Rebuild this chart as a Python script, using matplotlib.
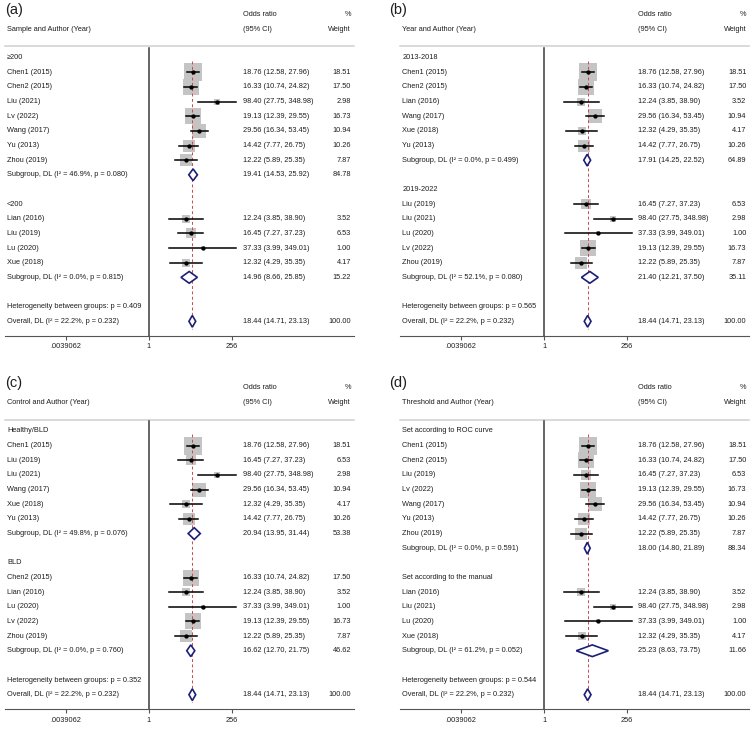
"""
Forest plots of subgroup analyses (a)-(d)
"""
import matplotlib
matplotlib.use('Agg')
import matplotlib.pyplot as plt
import matplotlib.transforms as mtransforms
from matplotlib.patches import Polygon
from matplotlib.ticker import FixedLocator, FixedFormatter, NullLocator
import numpy as np

plt.rcParams['font.family'] = ['Liberation Sans', 'DejaVu Sans']

# Studies
authors = ['Chen1 (2015)', 'Chen2 (2015)', 'Liu (2021)', 'Lv (2022)', 'Wang (2017)', 'Yu (2013)',
           'Zhou (2019)', 'Lian (2016)', 'Liu (2019)', 'Lu (2020)', 'Xue (2018)']
odds = [18.76, 16.33, 98.40, 19.13, 29.56, 14.42, 12.22, 12.24, 16.45, 37.33, 12.32]
ci_low = [12.58, 10.74, 27.75, 12.39, 16.34, 7.77, 5.89, 3.85, 7.27, 3.99, 4.29]
ci_high = [27.96, 24.82, 348.98, 29.55, 53.45, 26.75, 25.35, 38.90, 37.23, 349.01, 35.35]
weights = [18.51, 17.50, 2.98, 16.73, 10.94, 10.26, 7.87, 3.52, 6.53, 1.00, 4.17]

# Overall (DL)
overall_or = 18.44
overall_low = 14.71
overall_high = 23.13
overall_i2 = 22.2
overall_p = 0.232

# Panels
panel_tags = ['(a)', '(b)', '(c)', '(d)']
panel_titles = ['Sample and Author (Year)', 'Year and Author (Year)',
                'Control and Author (Year)', 'Threshold and Author (Year)']
group_names = [['≥200', '<200'],
               ['2013-2018', '2019-2022'],
               ['Healthy/BLD', 'BLD'],
               ['Set according to ROC curve', 'Set according to the manual']]
group_members = [
    [['Chen1 (2015)', 'Chen2 (2015)', 'Liu (2021)', 'Lv (2022)', 'Wang (2017)', 'Yu (2013)', 'Zhou (2019)'],
     ['Lian (2016)', 'Liu (2019)', 'Lu (2020)', 'Xue (2018)']],
    [['Chen1 (2015)', 'Chen2 (2015)', 'Lian (2016)', 'Wang (2017)', 'Xue (2018)', 'Yu (2013)'],
     ['Liu (2019)', 'Liu (2021)', 'Lu (2020)', 'Lv (2022)', 'Zhou (2019)']],
    [['Chen1 (2015)', 'Liu (2019)', 'Liu (2021)', 'Wang (2017)', 'Xue (2018)', 'Yu (2013)'],
     ['Chen2 (2015)', 'Lian (2016)', 'Lu (2020)', 'Lv (2022)', 'Zhou (2019)']],
    [['Chen1 (2015)', 'Chen2 (2015)', 'Liu (2019)', 'Lv (2022)', 'Wang (2017)', 'Yu (2013)', 'Zhou (2019)'],
     ['Lian (2016)', 'Liu (2021)', 'Lu (2020)', 'Xue (2018)']],
]
sub_or = [[19.41, 14.96], [17.91, 21.40], [20.94, 16.62], [18.00, 25.23]]
sub_low = [[14.53, 8.66], [14.25, 12.21], [13.95, 12.70], [14.80, 8.63]]
sub_high = [[25.92, 25.85], [22.52, 37.50], [31.44, 21.75], [21.89, 73.75]]
sub_weight = [[84.78, 15.22], [64.89, 35.11], [53.38, 46.62], [88.34, 11.66]]
sub_i2 = [[46.9, 0.0], [0.0, 52.1], [49.8, 0.0], [0.0, 61.2]]
sub_p = [[0.080, 0.815], [0.499, 0.080], [0.076, 0.760], [0.591, 0.052]]
het_p = [0.409, 0.565, 0.352, 0.544]

tick_values = [2.0 ** -8, 1, 2.0 ** 8]
tick_labels = ['.0039062', '1', '256']

# Layout (pixels)
W, H = 752, 729
ROW0, ROWH = 57.6, 14.65
Y_TOP, Y_BOT = -3.6, 18.98
PX_PER_LOG2 = 10.375
NULL_PX = 143.7          # null line offset inside panel axes
AX_W = 349
panel_x = [5, 400.3, 5, 400.3]
panel_dy = [0, 0, 373.4, 373.4]
tag_pos = [(5, 10), (389, 10), (5, 383), (389, 383)]

FS = 5.3
TXT = '#1e1e1e'
X_LAB, X_OR, X_W = 0.006, 0.682, 0.9914


def fmt_ci(o, lo, hi):
    return f'{o:.2f} ({lo:.2f}, {hi:.2f})'


def diamond(ax, o, lo, hi, r):
    h = 0.4
    pts = [(lo, r), (o, r - h), (hi, r), (o, r + h)]
    ax.add_patch(Polygon(pts, closed=True, facecolor='white', edgecolor='#1c1f78',
                         lw=1.2, zorder=4))


fig = plt.figure(figsize=(W / 100, H / 100), dpi=100)

for k in range(4):
    top_px = ROW0 + Y_TOP * ROWH + panel_dy[k]
    bot_px = ROW0 + Y_BOT * ROWH + panel_dy[k]
    ax = fig.add_axes([panel_x[k] / W, 1 - bot_px / H, AX_W / W, (bot_px - top_px) / H])
    ax.set_xscale('log', base=2)
    left_l2 = -NULL_PX / PX_PER_LOG2
    ax.set_xlim(2.0 ** left_l2, 2.0 ** (left_l2 + AX_W / PX_PER_LOG2))
    ax.set_ylim(Y_BOT, Y_TOP)
    tr = mtransforms.blended_transform_factory(ax.transAxes, ax.transData)

    for s in ['top', 'left', 'right']:
        ax.spines[s].set_visible(False)
    ax.spines['bottom'].set_color('#555555')
    ax.spines['bottom'].set_linewidth(0.8)
    ax.xaxis.set_major_locator(FixedLocator(tick_values))
    ax.xaxis.set_major_formatter(FixedFormatter(tick_labels))
    ax.xaxis.set_minor_locator(NullLocator())
    ax.tick_params(axis='x', direction='out', length=3, width=0.8, color='#555555',
                   labelsize=FS, labelcolor=TXT, pad=2.5)
    ax.set_yticks([])

    # headers
    ax.text(X_OR, -2.96, 'Odds ratio', transform=tr, fontsize=FS, color=TXT, va='center')
    ax.text(X_OR, -1.95, '(95% CI)', transform=tr, fontsize=FS, color=TXT, va='center')
    ax.text(X_W, -2.96, '%', transform=tr, fontsize=FS, color=TXT, va='center', ha='right')
    ax.text(X_W, -1.95, 'Weight', transform=tr, fontsize=FS, color=TXT, va='center', ha='right')
    ax.text(X_LAB, -1.95, panel_titles[k], transform=tr, fontsize=FS, color=TXT, va='center')
    ax.plot([0, 1], [-0.78, -0.78], transform=tr, color='#cfcfcf', lw=1.1, clip_on=False)

    # null line and overall line
    ax.plot([1, 1], [-0.68, Y_BOT], color='#3a3a3a', lw=1.1, zorder=2)
    ax.plot([overall_or, overall_or], [0.2, 18.5], color='#d04848', lw=0.7,
            ls=(0, (3, 2.5)), zorder=3)

    row = 0
    for g in range(2):
        ax.text(X_LAB, row, group_names[k][g], transform=tr, fontsize=FS, color=TXT, va='center')
        row += 1
        for name in group_members[k][g]:
            i = authors.index(name)
            side = 12.3 * np.sqrt(weights[i] / 18.51)
            ax.scatter(odds[i], row, marker='s', s=side ** 2, color='#c4c4c4', lw=0, zorder=1)
            ax.plot([ci_low[i], ci_high[i]], [row, row], color='black', lw=1.1, zorder=5)
            ax.plot(odds[i], row, 'o', ms=2.1, color='black', zorder=6)
            ax.text(X_LAB, row, name, transform=tr, fontsize=FS, color=TXT, va='center')
            ax.text(X_OR, row, fmt_ci(odds[i], ci_low[i], ci_high[i]), transform=tr,
                    fontsize=FS, color=TXT, va='center')
            ax.text(X_W, row, f'{weights[i]:.2f}', transform=tr, fontsize=FS, color=TXT,
                    va='center', ha='right')
            row += 1
        diamond(ax, sub_or[k][g], sub_low[k][g], sub_high[k][g], row)
        ax.text(X_LAB, row, f'Subgroup, DL (I² = {sub_i2[k][g]:.1f}%, p = {sub_p[k][g]:.3f})',
                transform=tr, fontsize=FS, color=TXT, va='center')
        ax.text(X_OR, row, fmt_ci(sub_or[k][g], sub_low[k][g], sub_high[k][g]), transform=tr,
                fontsize=FS, color=TXT, va='center')
        ax.text(X_W, row, f'{sub_weight[k][g]:.2f}', transform=tr, fontsize=FS, color=TXT,
                va='center', ha='right')
        row += 2

    ax.text(X_LAB, row, f'Heterogeneity between groups: p = {het_p[k]:.3f}', transform=tr,
            fontsize=FS, color=TXT, va='center')
    row += 1
    diamond(ax, overall_or, overall_low, overall_high, row)
    ax.text(X_LAB, row, f'Overall, DL (I² = {overall_i2:.1f}%, p = {overall_p:.3f})',
            transform=tr, fontsize=FS, color=TXT, va='center')
    ax.text(X_OR, row, fmt_ci(overall_or, overall_low, overall_high), transform=tr,
            fontsize=FS, color=TXT, va='center')
    ax.text(X_W, row, '100.00', transform=tr, fontsize=FS, color=TXT, va='center', ha='right')

    # panel letter
    tx, ty = tag_pos[k]
    fig.text(tx / W, 1 - ty / H, panel_tags[k], fontsize=10.5, color=TXT, va='center', ha='left')

fig.savefig('out.png', dpi=100)
